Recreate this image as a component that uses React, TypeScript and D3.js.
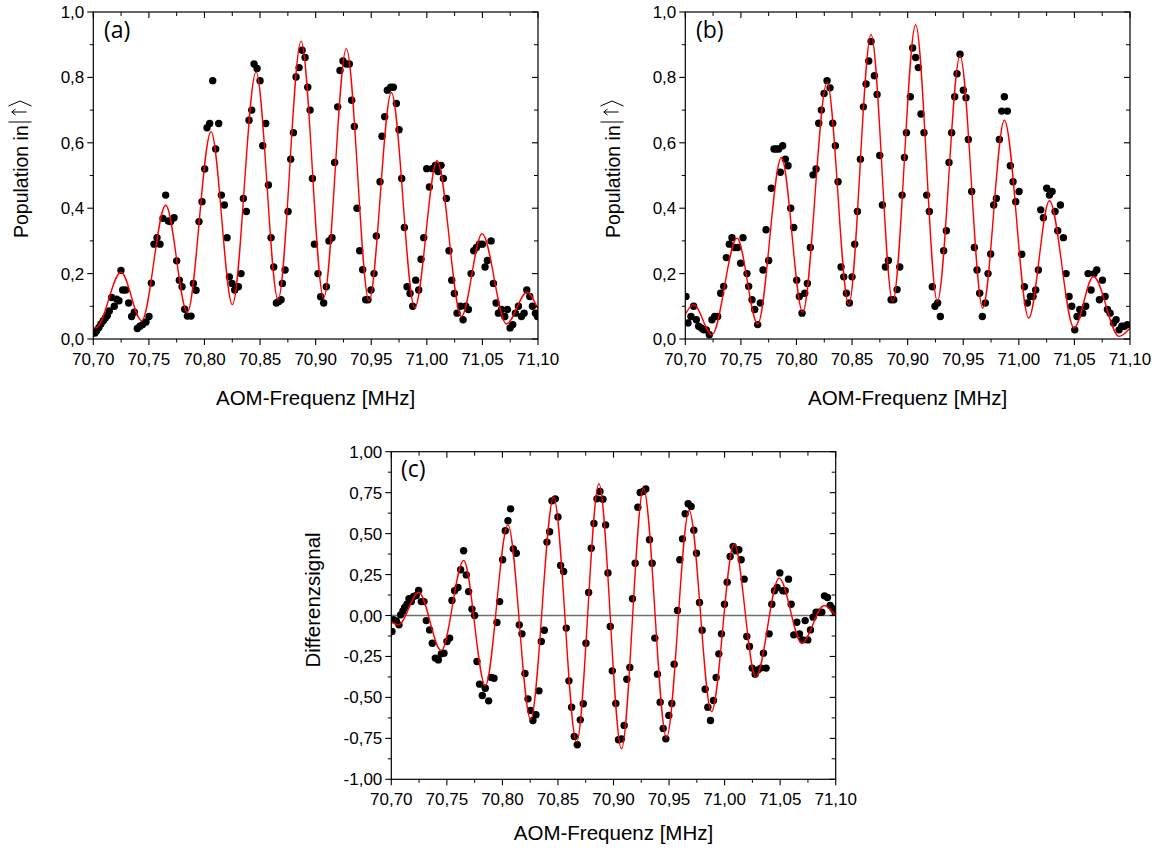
import React from 'react';
import * as d3 from 'd3';

// ---------- axis ticks / labels ----------
const xTickValues = [70.7, 70.75, 70.8, 70.85, 70.9, 70.95, 71.0, 71.05, 71.1];
const xMinorValues = [70.725, 70.775, 70.825, 70.875, 70.925, 70.975, 71.025, 71.075];
const yTicksPop = [0, 0.2, 0.4, 0.6, 0.8, 1.0];
const yMinorPop = [0.1, 0.3, 0.5, 0.7, 0.9];
const yTicksDiff = [-1, -0.75, -0.5, -0.25, 0, 0.25, 0.5, 0.75, 1];
const yMinorDiff = [-0.875, -0.625, -0.375, -0.125, 0.125, 0.375, 0.625, 0.875];
const xTitle = 'AOM-Frequenz [MHz]';
const yTitlePop = 'Population in';
const yTitleDiff = 'Differenzsignal';

// ---------- panel (a) ----------
const pointsA: [number, number][] = [
  [70.7015, 0.018], [70.703, 0.025], [70.7051, 0.035], [70.7069, 0.046], [70.709, 0.056], [70.7108, 0.064],
  [70.7126, 0.072], [70.7144, 0.086], [70.7165, 0.127], [70.7189, 0.1], [70.721, 0.122], [70.7231, 0.117],
  [70.7249, 0.21], [70.7264, 0.15], [70.7291, 0.15], [70.7318, 0.11], [70.7345, 0.069], [70.7369, 0.082],
  [70.7396, 0.032], [70.742, 0.039], [70.7444, 0.044], [70.7474, 0.052], [70.7501, 0.069], [70.7522, 0.171],
  [70.7546, 0.29], [70.7573, 0.31], [70.76, 0.29], [70.7627, 0.369], [70.7651, 0.44], [70.7675, 0.361],
  [70.7696, 0.359], [70.7726, 0.371], [70.775, 0.239], [70.7774, 0.18], [70.7798, 0.16], [70.7822, 0.091],
  [70.7846, 0.07], [70.7879, 0.07], [70.79, 0.17], [70.7924, 0.149], [70.7951, 0.359], [70.7978, 0.42],
  [70.8002, 0.52], [70.8023, 0.646], [70.8047, 0.659], [70.8074, 0.79], [70.8101, 0.581], [70.8128, 0.659],
  [70.8152, 0.44], [70.8179, 0.41], [70.8203, 0.31], [70.8224, 0.19], [70.8248, 0.17], [70.8272, 0.15],
  [70.8305, 0.16], [70.8329, 0.2], [70.835, 0.43], [70.8377, 0.39], [70.8401, 0.669], [70.8425, 0.7],
  [70.8446, 0.841], [70.8473, 0.827], [70.85, 0.79], [70.8524, 0.591], [70.8551, 0.659], [70.8575, 0.471],
  [70.8599, 0.31], [70.8623, 0.22], [70.8647, 0.11], [70.8668, 0.115], [70.8689, 0.12], [70.8701, 0.17],
  [70.8725, 0.211], [70.8752, 0.39], [70.8776, 0.55], [70.88, 0.631], [70.8824, 0.801], [70.8851, 0.83],
  [70.8878, 0.883], [70.8905, 0.861], [70.8929, 0.77], [70.895, 0.7], [70.8971, 0.491], [70.8989, 0.29],
  [70.9021, 0.2], [70.9045, 0.129], [70.9072, 0.11], [70.9096, 0.16], [70.912, 0.3], [70.9147, 0.31],
  [70.9171, 0.54], [70.9198, 0.71], [70.9219, 0.821], [70.9246, 0.85], [70.9276, 0.841], [70.9303, 0.841],
  [70.9324, 0.73], [70.9348, 0.65], [70.9372, 0.4], [70.9396, 0.27], [70.9423, 0.212], [70.945, 0.12],
  [70.9471, 0.12], [70.9498, 0.15], [70.9525, 0.2], [70.9546, 0.315], [70.9579, 0.481], [70.9597, 0.62],
  [70.9621, 0.68], [70.9645, 0.761], [70.9675, 0.77], [70.9699, 0.77], [70.9726, 0.72], [70.975, 0.64],
  [70.9774, 0.491], [70.9798, 0.341], [70.9822, 0.16], [70.9849, 0.139], [70.9873, 0.1], [70.99, 0.18],
  [70.9927, 0.15], [70.9948, 0.244], [70.9972, 0.31], [70.9999, 0.521], [71.0023, 0.465], [71.005, 0.521],
  [71.0077, 0.531], [71.0101, 0.512], [71.0128, 0.531], [71.0149, 0.491], [71.0176, 0.43], [71.02, 0.27],
  [71.0224, 0.18], [71.0248, 0.139], [71.0272, 0.079], [71.0302, 0.1], [71.0326, 0.059], [71.035, 0.1],
  [71.0374, 0.09], [71.0398, 0.2], [71.0422, 0.27], [71.0446, 0.28], [71.0473, 0.29], [71.05, 0.29],
  [71.0524, 0.22], [71.0545, 0.24], [71.0578, 0.3], [71.0599, 0.17], [71.0623, 0.11], [71.0644, 0.079],
  [71.0671, 0.09], [71.0701, 0.069], [71.0725, 0.09], [71.0749, 0.034], [71.0773, 0.044], [71.0797, 0.079],
  [71.0824, 0.1], [71.0851, 0.069], [71.0875, 0.079], [71.0899, 0.15], [71.0926, 0.13], [71.095, 0.1],
  [71.0977, 0.079], [71.0995, 0.069],
];
const fitA: [number, number][] = [
  [70.7, 0.036], [70.7024, 0.034], [70.7249, 0.204], [70.7435, 0.056], [70.7651, 0.409], [70.7846, 0.082],
  [70.8059, 0.634], [70.8251, 0.105], [70.8464, 0.817], [70.8662, 0.12], [70.8869, 0.911], [70.9072, 0.125],
  [70.9276, 0.888], [70.948, 0.117], [70.9681, 0.754], [70.9891, 0.095], [71.0092, 0.545], [71.0311, 0.069],
  [71.0497, 0.322], [71.0716, 0.046], [71.0902, 0.143], [71.1, 0.09],
];

// ---------- panel (b) ----------
const pointsB: [number, number][] = [
  [70.7006, 0.13], [70.7024, 0.049], [70.7051, 0.069], [70.7075, 0.1], [70.7099, 0.059], [70.712, 0.039],
  [70.7144, 0.034], [70.7165, 0.028], [70.7189, 0.028], [70.7216, 0.013], [70.724, 0.059], [70.7264, 0.069],
  [70.7291, 0.069], [70.7318, 0.14], [70.7345, 0.161], [70.7369, 0.249], [70.7396, 0.29], [70.742, 0.31],
  [70.7444, 0.28], [70.7471, 0.28], [70.7498, 0.232], [70.7519, 0.31], [70.7555, 0.2], [70.757, 0.161],
  [70.76, 0.12], [70.7624, 0.09], [70.7651, 0.044], [70.7675, 0.11], [70.7699, 0.211], [70.7726, 0.334],
  [70.775, 0.24], [70.7774, 0.461], [70.7798, 0.581], [70.7819, 0.581], [70.784, 0.581], [70.7855, 0.51],
  [70.7876, 0.591], [70.79, 0.55], [70.7924, 0.53], [70.7948, 0.4], [70.7975, 0.341], [70.8002, 0.18],
  [70.8026, 0.13], [70.805, 0.079], [70.8074, 0.14], [70.8098, 0.17], [70.8125, 0.28], [70.8149, 0.502],
  [70.8176, 0.52], [70.82, 0.66], [70.8224, 0.7], [70.8248, 0.751], [70.8275, 0.79], [70.8302, 0.768],
  [70.8326, 0.66], [70.835, 0.591], [70.8374, 0.481], [70.8401, 0.22], [70.8425, 0.19], [70.8449, 0.14],
  [70.8476, 0.11], [70.85, 0.19], [70.8524, 0.29], [70.8548, 0.39], [70.8575, 0.55], [70.8602, 0.71],
  [70.8626, 0.78], [70.865, 0.85], [70.8671, 0.91], [70.8701, 0.805], [70.8725, 0.748], [70.8749, 0.561],
  [70.8773, 0.41], [70.88, 0.22], [70.8827, 0.24], [70.8851, 0.12], [70.8875, 0.12], [70.8905, 0.151],
  [70.8929, 0.22], [70.895, 0.44], [70.8971, 0.555], [70.8989, 0.631], [70.9024, 0.741], [70.9045, 0.89],
  [70.9072, 0.861], [70.9096, 0.83], [70.912, 0.688], [70.9147, 0.631], [70.9171, 0.44], [70.9195, 0.39],
  [70.9222, 0.16], [70.9246, 0.1], [70.927, 0.11], [70.9294, 0.069], [70.9324, 0.27], [70.9348, 0.331],
  [70.9372, 0.54], [70.9396, 0.631], [70.9423, 0.741], [70.9444, 0.811], [70.9471, 0.871], [70.9501, 0.761],
  [70.9525, 0.738], [70.9546, 0.61], [70.9576, 0.451], [70.96, 0.28], [70.9624, 0.211], [70.9648, 0.14],
  [70.9672, 0.069], [70.9699, 0.11], [70.9723, 0.2], [70.9747, 0.26], [70.9774, 0.41], [70.9798, 0.43],
  [70.9825, 0.61], [70.9846, 0.697], [70.987, 0.741], [70.9897, 0.697], [70.9924, 0.53], [70.9948, 0.481],
  [70.9972, 0.42], [71.0002, 0.451], [71.0026, 0.259], [71.005, 0.16], [71.0077, 0.11], [71.0104, 0.13],
  [71.0128, 0.13], [71.0152, 0.15], [71.0176, 0.211], [71.0197, 0.395], [71.0221, 0.371], [71.0251, 0.461],
  [71.0275, 0.44], [71.0299, 0.451], [71.0326, 0.39], [71.035, 0.331], [71.0374, 0.41], [71.0401, 0.31],
  [71.0425, 0.2], [71.0452, 0.13], [71.0476, 0.1], [71.0503, 0.028], [71.0524, 0.069], [71.0548, 0.09],
  [71.0575, 0.079], [71.0602, 0.1], [71.0623, 0.2], [71.065, 0.15], [71.0677, 0.2], [71.0701, 0.211],
  [71.0725, 0.12], [71.0752, 0.18], [71.0776, 0.13], [71.0797, 0.09], [71.0821, 0.079], [71.0851, 0.049],
  [71.0875, 0.059], [71.0902, 0.028], [71.0926, 0.039], [71.095, 0.039], [71.0977, 0.044],
];
const fitB: [number, number][] = [
  [70.7, 0.076], [70.7075, 0.105], [70.724, 0.013], [70.7465, 0.308], [70.7651, 0.046], [70.7864, 0.555],
  [70.8056, 0.082], [70.8275, 0.784], [70.847, 0.105], [70.8671, 0.931], [70.8866, 0.115], [70.9072, 0.961],
  [70.9267, 0.115], [70.9471, 0.866], [70.9675, 0.095], [70.987, 0.669], [71.0089, 0.064], [71.0275, 0.423],
  [71.0497, 0.034], [71.0671, 0.191], [71.0902, 0.008], [71.1, 0.034],
];

// ---------- panel (c) ----------
const pointsC: [number, number][] = [
  [70.7006, -0.098], [70.7021, -0.026], [70.7045, -0.033], [70.7069, -0.057], [70.7084, 0.004], [70.7105, 0.028],
  [70.712, 0.049], [70.7141, 0.069], [70.7159, 0.102], [70.718, 0.085], [70.7201, 0.116], [70.7225, 0.122],
  [70.7246, 0.153], [70.727, 0.085], [70.7294, 0.085], [70.7315, -0.031], [70.7345, -0.088], [70.7369, -0.169],
  [70.7396, -0.26], [70.7423, -0.271], [70.745, -0.234], [70.7474, -0.23], [70.7501, -0.159], [70.7525, -0.138],
  [70.7546, 0.092], [70.757, 0.151], [70.76, 0.171], [70.7624, 0.279], [70.7651, 0.395], [70.7675, 0.248],
  [70.7696, 0.146], [70.7726, 0.039], [70.775, 0.0], [70.7771, -0.281], [70.7795, -0.419], [70.7819, -0.488],
  [70.7846, -0.444], [70.7876, -0.521], [70.79, -0.378], [70.7924, -0.383], [70.7951, -0.043], [70.7975, 0.085],
  [70.8002, 0.34], [70.8026, 0.517], [70.805, 0.578], [70.8074, 0.651], [70.8098, 0.407], [70.8125, 0.38],
  [70.8152, -0.057], [70.8176, -0.112], [70.8203, -0.354], [70.823, -0.509], [70.8254, -0.58], [70.8275, -0.641],
  [70.8302, -0.606], [70.8329, -0.46], [70.835, -0.159], [70.8377, -0.09], [70.8401, 0.448], [70.8425, 0.511],
  [70.8446, 0.7], [70.8476, 0.712], [70.85, 0.602], [70.8524, 0.305], [70.8551, 0.269], [70.8575, -0.077],
  [70.8599, -0.399], [70.8623, -0.56], [70.8647, -0.739], [70.8674, -0.789], [70.8701, -0.637], [70.8728, -0.539],
  [70.8752, -0.169], [70.8776, 0.14], [70.88, 0.411], [70.8824, 0.562], [70.8851, 0.712], [70.8878, 0.757],
  [70.8905, 0.71], [70.8929, 0.553], [70.895, 0.26], [70.8971, -0.067], [70.8989, -0.338], [70.9021, -0.537],
  [70.9045, -0.759], [70.9072, -0.753], [70.9096, -0.671], [70.912, -0.389], [70.9147, -0.317], [70.9171, 0.102],
  [70.9195, 0.319], [70.9219, 0.661], [70.924, 0.751], [70.9267, 0.757], [70.9291, 0.773], [70.9324, 0.462],
  [70.9348, 0.319], [70.9372, -0.138], [70.9396, -0.358], [70.942, -0.529], [70.9447, -0.69], [70.9471, -0.753],
  [70.9498, -0.61], [70.9525, -0.537], [70.9546, -0.297], [70.9576, 0.031], [70.9597, 0.34], [70.9621, 0.468],
  [70.9645, 0.621], [70.9672, 0.682], [70.9699, 0.665], [70.9723, 0.521], [70.9747, 0.38], [70.9774, 0.079],
  [70.9798, -0.09], [70.9825, -0.45], [70.9849, -0.56], [70.9873, -0.641], [70.99, -0.519], [70.9924, -0.378],
  [70.9948, -0.234], [70.9972, -0.112], [70.9999, 0.069], [71.0023, 0.203], [71.005, 0.36], [71.0077, 0.421],
  [71.0101, 0.395], [71.0128, 0.401], [71.0149, 0.34], [71.0176, 0.222], [71.02, -0.128], [71.0224, -0.189],
  [71.0248, -0.321], [71.0275, -0.358], [71.0299, -0.332], [71.0326, -0.321], [71.035, -0.23], [71.0374, -0.321],
  [71.0401, -0.112], [71.0425, 0.069], [71.0449, 0.151], [71.0473, 0.171], [71.0497, 0.26], [71.0524, 0.151],
  [71.0545, 0.151], [71.0575, 0.222], [71.0599, 0.069], [71.0623, -0.118], [71.065, -0.041], [71.0674, -0.112],
  [71.0701, -0.149], [71.0725, -0.031], [71.0749, -0.149], [71.0773, -0.088], [71.0797, -0.01], [71.0824, 0.02],
  [71.0851, 0.02], [71.0875, 0.02], [71.0899, 0.12], [71.0926, 0.11], [71.095, 0.061], [71.0977, 0.041],
  [71.0995, 0.02],
];
const fitC: [number, number][] = [
  [70.7, -0.037], [70.7066, -0.057], [70.7246, 0.142], [70.745, -0.214], [70.7651, 0.336], [70.7846, -0.427],
  [70.805, 0.553], [70.8254, -0.633], [70.8461, 0.722], [70.8668, -0.773], [70.8869, 0.804], [70.9072, -0.814],
  [70.927, 0.777], [70.9477, -0.745], [70.9681, 0.641], [70.9882, -0.586], [71.0086, 0.437], [71.0281, -0.376],
  [71.0491, 0.228], [71.0695, -0.169], [71.0896, 0.061], [71.1, 0.0],
];

const FONT = '"Liberation Sans", Arial, sans-serif';
const TAGFONT = '"Open Sans", sans-serif';
const fmt = (d: number, digits: number) => d.toFixed(digits).replace('.', ',');

type PanelProps = {
  left: number; right: number; top: number; bottom: number;
  yDomain: [number, number];
  yTicks: number[]; yMinor: number[]; yDigits: number;
  points: [number, number][]; fit: [number, number][];
  tag: string; zeroLine?: boolean; titleDy: number;
};

function Panel(p: PanelProps) {
  const x = d3.scaleLinear().domain([70.7, 71.1]).range([p.left, p.right]);
  const y = d3.scaleLinear().domain(p.yDomain).range([p.bottom, p.top]);
  const line = d3.line<[number, number]>().x(d => x(d[0])).y(d => y(d[1])).curve(d3.curveMonotoneX);
  const clipId = 'clip' + p.tag;
  return (
    <g>
      <defs>
        <clipPath id={clipId}>
          <rect x={p.left} y={p.top} width={p.right - p.left} height={p.bottom - p.top} />
        </clipPath>
      </defs>
      {p.zeroLine && (
        <line x1={p.left} x2={p.right} y1={y(0)} y2={y(0)} stroke="#6e6e6e" strokeWidth={1.6} />
      )}
      <g clipPath={`url(#${clipId})`}>
        {p.points.map((d, i) => (
          <circle key={i} cx={x(d[0])} cy={y(d[1])} r={3.7} fill="#000" />
        ))}
        <path d={line(p.fit) || ''} fill="none" stroke="#ff0000" strokeWidth={1.4} />
      </g>
      <rect x={p.left} y={p.top} width={p.right - p.left} height={p.bottom - p.top} fill="none" stroke="#000" strokeWidth={1.2} />
      {xTickValues.map((t, i) => (
        <g key={'xt' + i}>
          <line x1={x(t)} x2={x(t)} y1={p.bottom} y2={p.bottom + 6} stroke="#000" strokeWidth={1.1} />
          <line x1={x(t)} x2={x(t)} y1={p.top} y2={p.top + 6} stroke="#000" strokeWidth={1.1} />
          <text x={x(t)} y={p.bottom + 26} textAnchor="middle" fontFamily={FONT} fontSize={17}>{fmt(t, 2)}</text>
        </g>
      ))}
      {xMinorValues.map((t, i) => (
        <g key={'xm' + i}>
          <line x1={x(t)} x2={x(t)} y1={p.bottom} y2={p.bottom + 3.5} stroke="#000" strokeWidth={1} />
          <line x1={x(t)} x2={x(t)} y1={p.top} y2={p.top + 4} stroke="#000" strokeWidth={1} />
        </g>
      ))}
      {p.yTicks.map((t, i) => (
        <g key={'yt' + i}>
          <line x1={p.left - 6} x2={p.left} y1={y(t)} y2={y(t)} stroke="#000" strokeWidth={1.1} />
          <line x1={p.right - 6} x2={p.right} y1={y(t)} y2={y(t)} stroke="#000" strokeWidth={1.1} />
          <text x={p.left - 9} y={y(t) + 6} textAnchor="end" fontFamily={FONT} fontSize={17}>{fmt(t, p.yDigits)}</text>
        </g>
      ))}
      {p.yMinor.map((t, i) => (
        <g key={'ym' + i}>
          <line x1={p.left - 3.5} x2={p.left} y1={y(t)} y2={y(t)} stroke="#000" strokeWidth={1} />
          <line x1={p.right - 4} x2={p.right} y1={y(t)} y2={y(t)} stroke="#000" strokeWidth={1} />
        </g>
      ))}
      <text x={(p.left + p.right) / 2} y={p.bottom + p.titleDy} textAnchor="middle" fontFamily={FONT} fontSize={20.5}>{xTitle}</text>
    </g>
  );
}

function PopTitle({ bx, startY }: { bx: number; startY: number }) {
  return (
    <g transform={`translate(${bx},${startY}) rotate(-90)`}>
      <text x={0} y={0} fontFamily={FONT} fontSize={19.5}>{yTitlePop}</text>
      <line x1={116} x2={116} y1={-19.5} y2={3.5} stroke="#000" strokeWidth={1} />
      <line x1={126} x2={126} y1={-1.5} y2={-16} stroke="#000" strokeWidth={1} />
      <polyline points="123,-12.5 126,-16.3 129,-12.5" fill="none" stroke="#000" strokeWidth={1} />
      <polyline points="132,-19.5 137,-8 132,3.5" fill="none" stroke="#000" strokeWidth={1} />
    </g>
  );
}

export default function App() {
  return (
    <svg width={1157} height={850} style={{ position: 'absolute', left: 0, top: 0, background: '#fff' }}>
      <rect width={1157} height={850} fill="#fff" />
      <Panel left={93.3} right={538} top={12} bottom={339} yDomain={[0, 1]} yTicks={yTicksPop} yMinor={yMinorPop}
        yDigits={1} points={pointsA} fit={fitA} tag="a" titleDy={66} />
      <Panel left={685.3} right={1130} top={12} bottom={339} yDomain={[0, 1]} yTicks={yTicksPop} yMinor={yMinorPop}
        yDigits={1} points={pointsB} fit={fitB} tag="b" titleDy={66} />
      <Panel left={391.3} right={835.7} top={451.7} bottom={779.3} yDomain={[-1, 1]} yTicks={yTicksDiff} yMinor={yMinorDiff}
        yDigits={2} points={pointsC} fit={fitC} tag="c" zeroLine titleDy={61} />
      <text x={104} y={38} fontFamily={TAGFONT} fontSize={23}>(a)</text>
      <text x={696} y={38} fontFamily={TAGFONT} fontSize={23}>(b)</text>
      <text x={401} y={477} fontFamily={TAGFONT} fontSize={23}>(c)</text>
      <PopTitle bx={28} startY={238} />
      <PopTitle bx={620} startY={238} />
      <text transform="translate(320,600) rotate(-90)" textAnchor="middle" fontFamily={FONT} fontSize={20.5}>{yTitleDiff}</text>
    </svg>
  );
}
